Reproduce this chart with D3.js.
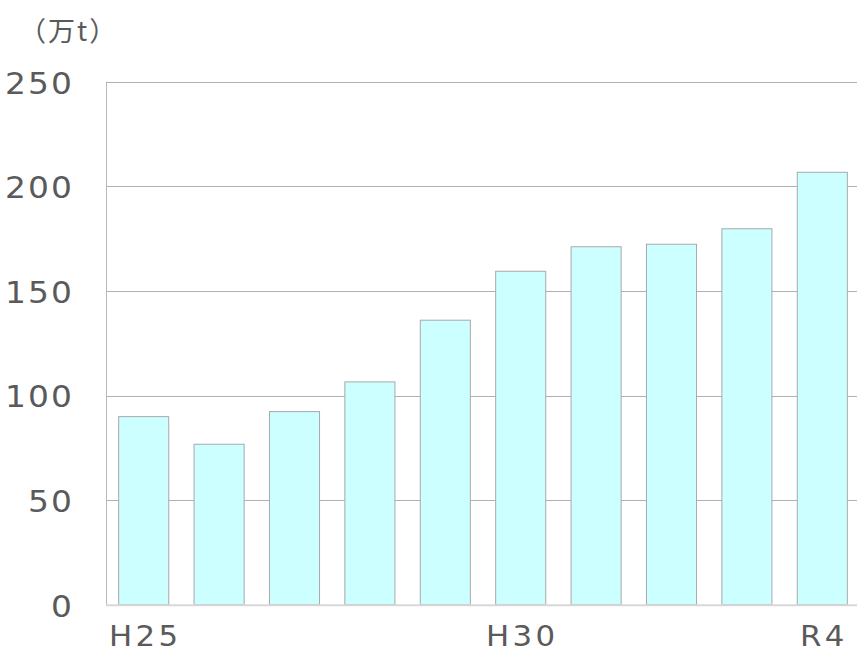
<!DOCTYPE html>
<html>
<head>
<meta charset="utf-8">
<script src="https://cdn.jsdelivr.net/npm/d3@7"></script>
<style>
  html, body { margin: 0; padding: 0; background: #fff; }
  svg { display: block; }
</style>
</head>
<body>
<svg id="chart" width="857" height="652"></svg>
<script>
// Fiscal years (Heisei 25 – Reiwa 4) and amounts in 10,000 t
const years = ["H25", "H26", "H27", "H28", "H29", "H30", "R1", "R2", "R3", "R4"];
const values = [89.9, 76.7, 92.3, 106.5, 136.0, 159.4, 171.1, 172.3, 179.7, 206.7];
const xTickLabels = ["H25", "H30", "R4"];
const yTicks = [0, 50, 100, 150, 200, 250];
const unitLabel = "（万t）";

const svg = d3.select("#chart");
const margin = { left: 106, right: -3, top: 81.7, bottom: 47.3 };
const W = 857, H = 652;

const x = d3.scaleBand()
  .domain(years)
  .range([margin.left, W - margin.right])
  .paddingInner(0.336)
  .paddingOuter(0.168);

const y = d3.scaleLinear()
  .domain([0, 250])
  .range([H - margin.bottom, margin.top]);

const font = "'DejaVu Sans', Verdana, sans-serif";
const textColor = "#5a5a5a";

// Horizontal gridlines
svg.append("g")
  .selectAll("line")
  .data(yTicks.filter(d => d > 0))
  .join("line")
  .attr("x1", margin.left)
  .attr("x2", W)
  .attr("y1", d => Math.round(y(d)) + 0.5)
  .attr("y2", d => Math.round(y(d)) + 0.5)
  .attr("stroke", "#b0b0b0")
  .attr("stroke-width", 1);

// Left edge of plot
svg.append("line")
  .attr("x1", margin.left + 0.5).attr("x2", margin.left + 0.5)
  .attr("y1", y(250)).attr("y2", y(0))
  .attr("stroke", "#b8b8b8");

// Bars
svg.append("g")
  .selectAll("rect")
  .data(values)
  .join("rect")
  .attr("x", (d, i) => x(years[i]))
  .attr("y", d => y(d))
  .attr("width", x.bandwidth())
  .attr("height", d => y(0) - y(d))
  .attr("fill", "#ccffff")
  .attr("stroke", "#a9a9a9")
  .attr("stroke-width", 1);

// Baseline
svg.append("line")
  .attr("x1", margin.left).attr("x2", W)
  .attr("y1", y(0) + 0.5).attr("y2", y(0) + 0.5)
  .attr("stroke", "#d8d8d8")
  .attr("stroke-width", 2);

// Y axis labels (slightly widened glyphs)
const yAxis = d3.axisLeft(y).tickValues(yTicks).tickSize(0).tickPadding(0);
const gy = svg.append("g")
  .attr("transform", "translate(74,0)")
  .call(yAxis);
gy.select(".domain").remove();
gy.selectAll("text")
  .attr("font-family", font)
  .attr("font-size", 31)
  .attr("letter-spacing", 2)
  .attr("fill", textColor)
  .attr("dy", "0.37em")
  .attr("transform", "scale(1.06,1)");

// X axis labels (only selected years shown)
const xAxis = d3.axisBottom(x)
  .tickValues(xTickLabels)
  .tickSize(0)
  .tickPadding(0);
const gx = svg.append("g")
  .attr("transform", `translate(1.5,${H - 6})`)
  .call(xAxis);
gx.select(".domain").remove();
gx.selectAll("text")
  .attr("font-family", font)
  .attr("font-size", 28)
  .attr("letter-spacing", 3)
  .attr("fill", textColor)
  .attr("dy", 0)
  .attr("transform", "scale(1.1,1)");

// Unit label
svg.append("text")
  .attr("x", 19)
  .attr("y", 41)
  .attr("font-family", "'Noto Sans CJK JP', sans-serif")
  .attr("font-size", 27)
  .attr("letter-spacing", 2)
  .attr("fill", textColor)
  .text(unitLabel);
</script>
</body>
</html>
